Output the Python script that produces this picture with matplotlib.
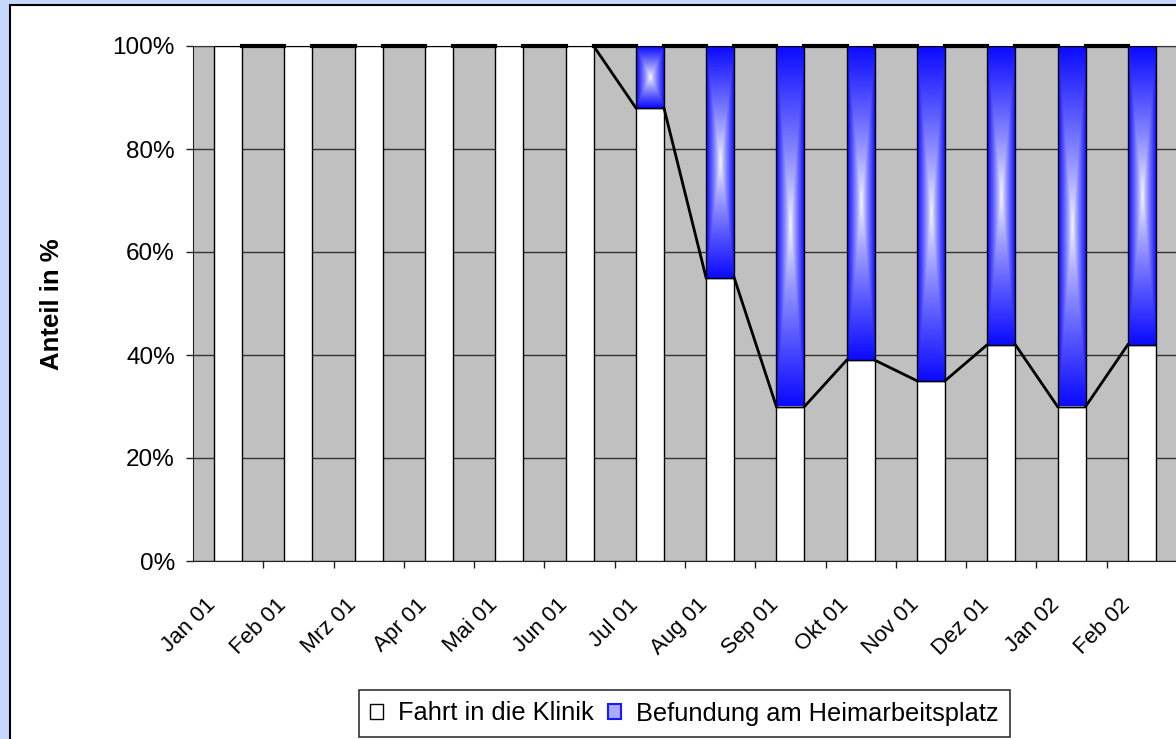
import numpy as np
import matplotlib.pyplot as plt
from matplotlib.patches import Rectangle, Patch
from matplotlib.ticker import PercentFormatter, FixedLocator, NullFormatter

plt.rcParams['font.family'] = ['Liberation Sans', 'DejaVu Sans']

# data (share in %)
months = ['Jan 01', 'Feb 01', 'Mrz 01', 'Apr 01', 'Mai 01', 'Jun 01', 'Jul 01',
          'Aug 01', 'Sep 01', 'Okt 01', 'Nov 01', 'Dez 01', 'Jan 02', 'Feb 02']
fahrt = [100, 100, 100, 100, 100, 100, 88, 55, 30, 39, 35, 42, 30, 42]
befund = [0, 0, 0, 0, 0, 0, 12, 45, 70, 61, 65, 58, 70, 58]
labels = ['Fahrt in die Klinik', 'Befundung am Heimarbeitsplatz']

W, H = 1176, 739
fig = plt.figure(figsize=(W / 100, H / 100), dpi=100)
fig.patch.set_facecolor('#C6D9FD')

# white chart area with black border (cropped at right/bottom)
fig.patches.append(Rectangle((9.5 / W, -0.05), 1.1, 1 - 4.5 / H + 0.05,
                             transform=fig.transFigure, facecolor='white',
                             edgecolor='black', lw=1.5, zorder=-10))

ax = fig.add_axes([193 / W, 1 - 561 / H, 984 / W, 515 / H])
ax.set_facecolor('#C0C0C0')

x = np.arange(len(months))
bw = 0.4
ax.bar(x, fahrt, width=bw, color='white', edgecolor='black', lw=1.0, zorder=3)

# blue segments with centre-out gradient
ny, nx = 200, 60
u = np.linspace(-1, 1, nx)
v = np.linspace(-1, 1, ny)
U, V = np.meshgrid(u, v)
t = np.maximum(np.abs(U), np.abs(V)) ** 0.8
grad = np.dstack([1 - 0.96 * t, 1 - 0.96 * t, np.ones_like(t)])
for xi, f, b in zip(x, fahrt, befund):
    if b > 0:
        ax.imshow(grad, extent=(xi - bw / 2, xi + bw / 2, f, f + b),
                  aspect='auto', interpolation='bilinear', zorder=3)
        ax.add_patch(Rectangle((xi - bw / 2, f), bw, b, fill=False,
                               ec='black', lw=1.0, zorder=4))

# series lines between bars
total = [f + b for f, b in zip(fahrt, befund)]
for i in range(len(x) - 1):
    ax.plot([x[i] + bw / 2, x[i + 1] - bw / 2], [fahrt[i], fahrt[i + 1]],
            color='black', lw=2, zorder=5, clip_on=False)
    ax.plot([x[i] + bw / 2, x[i + 1] - bw / 2], [total[i], total[i + 1]],
            color='black', lw=3, zorder=5, clip_on=False)

ax.set_xlim(-0.5, len(months) - 0.5)
ax.set_ylim(0, 100)
ax.set_yticks([0, 20, 40, 60, 80, 100])
ax.yaxis.set_major_formatter(PercentFormatter(100, decimals=0))
ax.yaxis.grid(True, color='#333333', lw=1.0)
ax.set_axisbelow(True)

# category boundary ticks and offset labels
ax.xaxis.set_major_locator(FixedLocator(x + 0.5))
ax.xaxis.set_major_formatter(NullFormatter())
ax.xaxis.set_minor_locator(FixedLocator(x - 0.11))
ax.set_xticklabels(months, minor=True, rotation=45, ha='right', va='top')
ax.tick_params(axis='x', which='major', direction='out', length=5, width=1, color='#222222')
ax.tick_params(axis='x', which='minor', length=0, pad=24, labelsize=16)
ax.tick_params(axis='y', direction='out', length=5, width=1, pad=8,
               labelsize=17.5, color='#222222')

for s in ['right']:
    ax.spines[s].set_visible(False)
ax.spines['top'].set_color('#333333')
ax.spines['left'].set_color('#222222')
ax.spines['bottom'].set_color('#222222')

fig.text(52 / W, 1 - 304 / H, 'Anteil in %', rotation=90, ha='center',
         va='center', fontsize=18.5, fontweight='bold')

handles = [Patch(facecolor='white', edgecolor='black', lw=1),
           Patch(facecolor='#aaaaff', edgecolor='#1a1aff', lw=1.5)]
leg = fig.legend(handles, labels, loc='center', ncol=2,
                 bbox_to_anchor=(684.5 / W, 1 - 713.5 / H), fontsize=18.3,
                 frameon=True, fancybox=False, edgecolor='black',
                 handlelength=0.5, handleheight=0.5, handletextpad=0.6,
                 columnspacing=0.55, borderpad=0.45, borderaxespad=0)
leg.get_frame().set_linewidth(1.2)

fig.savefig('out.png', dpi=100, facecolor=fig.get_facecolor())
